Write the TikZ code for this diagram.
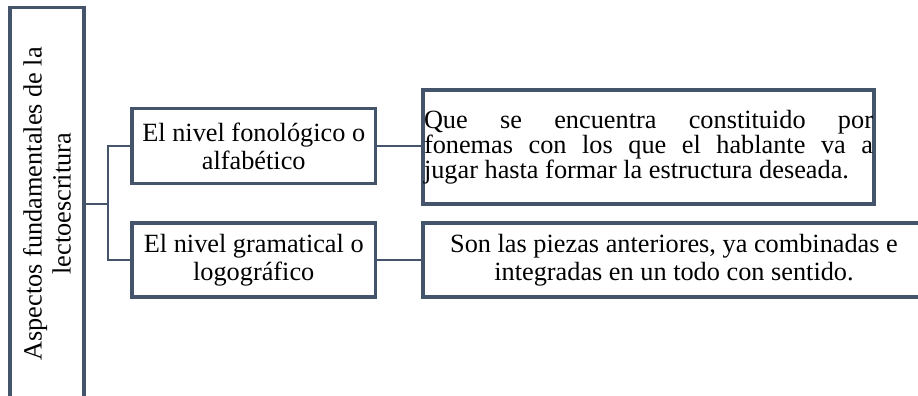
\documentclass[tikz,border=0pt]{standalone}
\usepackage{fontspec}
\setmainfont{Liberation Serif}
\definecolor{slate}{HTML}{44546A}
\newcommand\mainfs{\fontsize{26.3}{28}\selectfont}
\newcommand\jfs{\fontsize{26.3}{25}\selectfont}
\begin{document}
\begin{tikzpicture}[x=1pt,y=-1pt,
  boxstyle/.style={draw=slate,line width=3.2pt,fill=white,inner sep=0pt,align=center,font=\mainfs},
  link/.style={draw=slate,line width=1.8pt}]
\useasboundingbox (0,0) rectangle (918,396);
\node[boxstyle,rotate=90,minimum width=393pt,minimum height=74pt,font=\fontsize{26.3}{29}\selectfont] (root) at (47,203.75)
  {Aspectos fundamentales de la\\lectoescritura};
\node[boxstyle,minimum width=243.5pt,minimum height=75pt] (n1) at (253.75,146)
  {El nivel fonológico o\\alfabético};
\node[boxstyle,minimum width=243.5pt,minimum height=74pt] (n2) at (253.75,260)
  {El nivel gramatical o\\logográfico};
\node[boxstyle,minimum width=451pt,minimum height=114pt,text width=449pt,align=flush left,font=\jfs] (d1) at (648.5,147)
  {\spaceskip=0pt\xspaceskip=0pt
   \makebox[449pt]{Que\hfill se\hfill encuentra\hfill constituido\hfill por}\\
   \makebox[449pt]{fonemas\hfill con\hfill los\hfill que\hfill el\hfill hablante\hfill va\hfill a}\\
   jugar hasta formar la estructura deseada.};
\node[boxstyle,minimum width=502pt,minimum height=74pt] (d2) at (674,260)
  {Son las piezas anteriores, ya combinadas e\\integradas en un todo con sentido.};
\coordinate (fork) at (108,203.75);
\draw[link] (root.south) -- (fork);
\draw[link] (n1.west) -| (fork) |- (n2.west);
\draw[link] (n1.east) -- (n1.east -| d1.west);
\draw[link] (n2.east) -- (d2.west);
\end{tikzpicture}
\end{document}
